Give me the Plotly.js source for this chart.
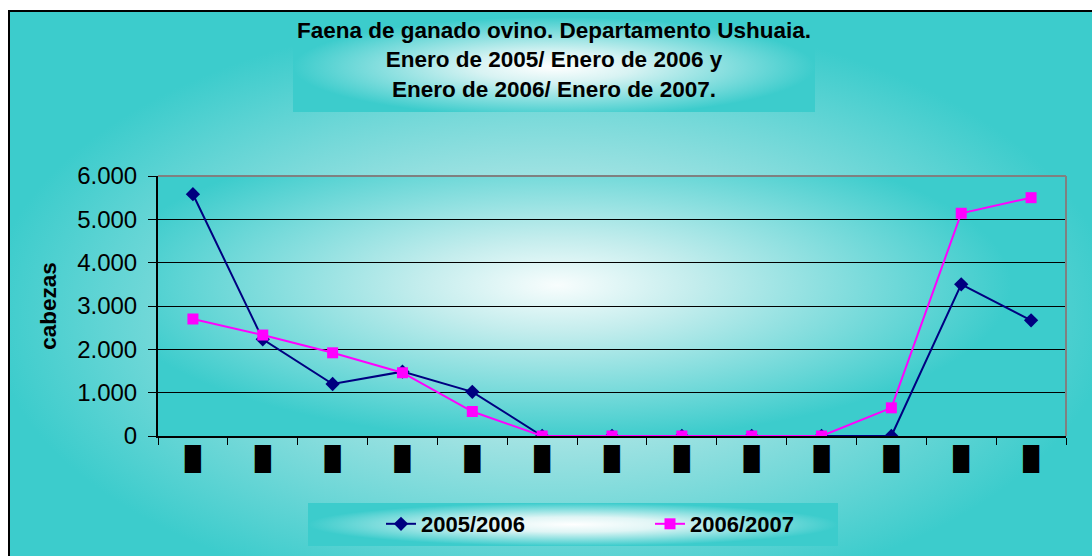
<!DOCTYPE html>
<html>
<head>
<meta charset="utf-8">
<script src="https://cdn.plot.ly/plotly-3.0.1.min.js"></script>
<style>
  html, body { margin: 0; padding: 0; background: #ffffff; }
  #wrap { position: relative; width: 1092px; height: 556px; overflow: hidden; }
  .bg { position: absolute; box-sizing: border-box; }
  #chartbg { left: 8px; top: 10px; width: 1084px; height: 546px;
    border-left: 2px solid #000; border-top: 2px solid #000;
    background: radial-gradient(ellipse 52% 55% at 50% 55%, #eefafa 0%, #9fe2e2 45%, #3ccccc 100%); }
  #titlebox { left: 293px; top: 12px; width: 522px; height: 100px;
    background: radial-gradient(ellipse 50% 50% at 50% 55%, #ffffff 0%, #d8f3f3 30%, #3ccccc 100%); }
  #plotbg { left: 158px; top: 176px; width: 908px; height: 260px;
    background: radial-gradient(ellipse 50% 60% at 44% 42%, #f8fdfd 0%, #c4eded 30%, #3ccccc 100%); }
  #legbox { left: 308px; top: 503px; width: 530px; height: 43px;
    background: radial-gradient(ellipse 50% 50% at 50% 50%, #ffffff 0%, #dff5f5 35%, #3ccccc 100%); }
  #chart { position: absolute; left: 0; top: 0; width: 1092px; height: 556px; }
</style>
</head>
<body>
<div id="wrap">
  <div class="bg" id="chartbg"></div>
  <div class="bg" id="titlebox"></div>
  <div class="bg" id="plotbg"></div>
  <div class="bg" id="legbox"></div>
  <div id="chart"></div>
</div>
<script>
// Categories (13 months, Enero to Enero); their labels render as black blocks in the reference
const months = ["Enero", "Febrero", "Marzo", "Abril", "Mayo", "Junio", "Julio",
                "Agosto", "Septiembre", "Octubre", "Noviembre", "Diciembre", "Enero sig."];
const tickLabels = ["█", "█", "█", "█", "█", "█", "█", "█", "█", "█", "█", "█", "█"];

const serie1Name = "2005/2006";
const serie1 = [5580, 2230, 1200, 1485, 1020, 0, 0, 0, 0, 0, 0, 3500, 2670];

const serie2Name = "2006/2007";
const serie2 = [2700, 2330, 1920, 1460, 565, 0, 0, 0, 0, 0, 650, 5140, 5500];

const yTicks = [0, 1000, 2000, 3000, 4000, 5000, 6000];

const FONT = "Liberation Sans, Arial, sans-serif";

const traces = [
  {
    type: "scatter", mode: "lines+markers", name: serie1Name,
    x: months, y: serie1,
    line: { color: "#000080", width: 2 },
    marker: { symbol: "diamond", size: 11, color: "#000080" }
  },
  {
    type: "scatter", mode: "lines+markers", name: serie2Name,
    x: months, y: serie2,
    line: { color: "#ff00ff", width: 2 },
    marker: { symbol: "square", size: 11, color: "#ff00ff" }
  }
];

const layout = {
  width: 1092, height: 556,
  margin: { l: 158, r: 26, t: 176, b: 120 },
  paper_bgcolor: "rgba(0,0,0,0)",
  plot_bgcolor: "rgba(0,0,0,0)",
  separators: ",.",
  font: { family: FONT, color: "#000" },
  title: {
    text: "Faena de ganado ovino. Departamento Ushuaia.<br>Enero de 2005/ Enero de 2006 y<br>Enero de 2006/ Enero de 2007.",
    font: { family: FONT, size: 22.5, weight: "bold", color: "#000" },
    x: 554 / 1092, xanchor: "center", xref: "container",
    y: 1 - 38 / 556, yanchor: "middle", yref: "container"
  },
  xaxis: {
    type: "category",
    categoryorder: "array", categoryarray: months,
    range: [-0.5, 12.5],
    tickmode: "array", tickvals: months, ticktext: tickLabels,
    tickson: "boundaries",
    ticks: "outside", ticklen: 7, tickcolor: "#000", tickwidth: 1,
    showline: true, linecolor: "#000", linewidth: 2,
    showgrid: false, zeroline: false,
    tickfont: { family: FONT, size: 23, color: "#000" }
  },
  yaxis: {
    range: [0, 6000],
    tickmode: "array", tickvals: yTicks,
    tickformat: ",.0f",
    ticks: "outside", ticklen: 8, tickcolor: "#000", tickwidth: 1,
    ticklabelstandoff: 6,
    showline: true, linecolor: "#000", linewidth: 2,
    showgrid: true, gridcolor: "#000", gridwidth: 1,
    zeroline: false,
    tickfont: { family: FONT, size: 24, color: "#000" },
    title: {
      text: "cabezas",
      font: { family: FONT, size: 22.5, weight: "bold", color: "#000" },
      standoff: 14
    }
  },
  shapes: [
    { type: "line", xref: "paper", yref: "paper", x0: 0, x1: 1, y0: 1, y1: 1,
      line: { color: "#808080", width: 2 }, layer: "above" },
    { type: "line", xref: "paper", yref: "paper", x0: 1, x1: 1, y0: 0, y1: 1,
      line: { color: "#808080", width: 2 }, layer: "above" }
  ],
  showlegend: true,
  legend: {
    orientation: "h",
    xref: "container", yref: "container",
    x: 650 / 1092, xanchor: "center",
    y: (556 - 524) / 556, yanchor: "middle",
    bgcolor: "rgba(0,0,0,0)",
    font: { family: FONT, size: 22, weight: "bold", color: "#000" },
    entrywidth: 224, entrywidthmode: "pixels",
    itemwidth: 30
  }
};

Plotly.newPlot("chart", traces, layout, { displayModeBar: false, staticPlot: true });
</script>
</body>
</html>
